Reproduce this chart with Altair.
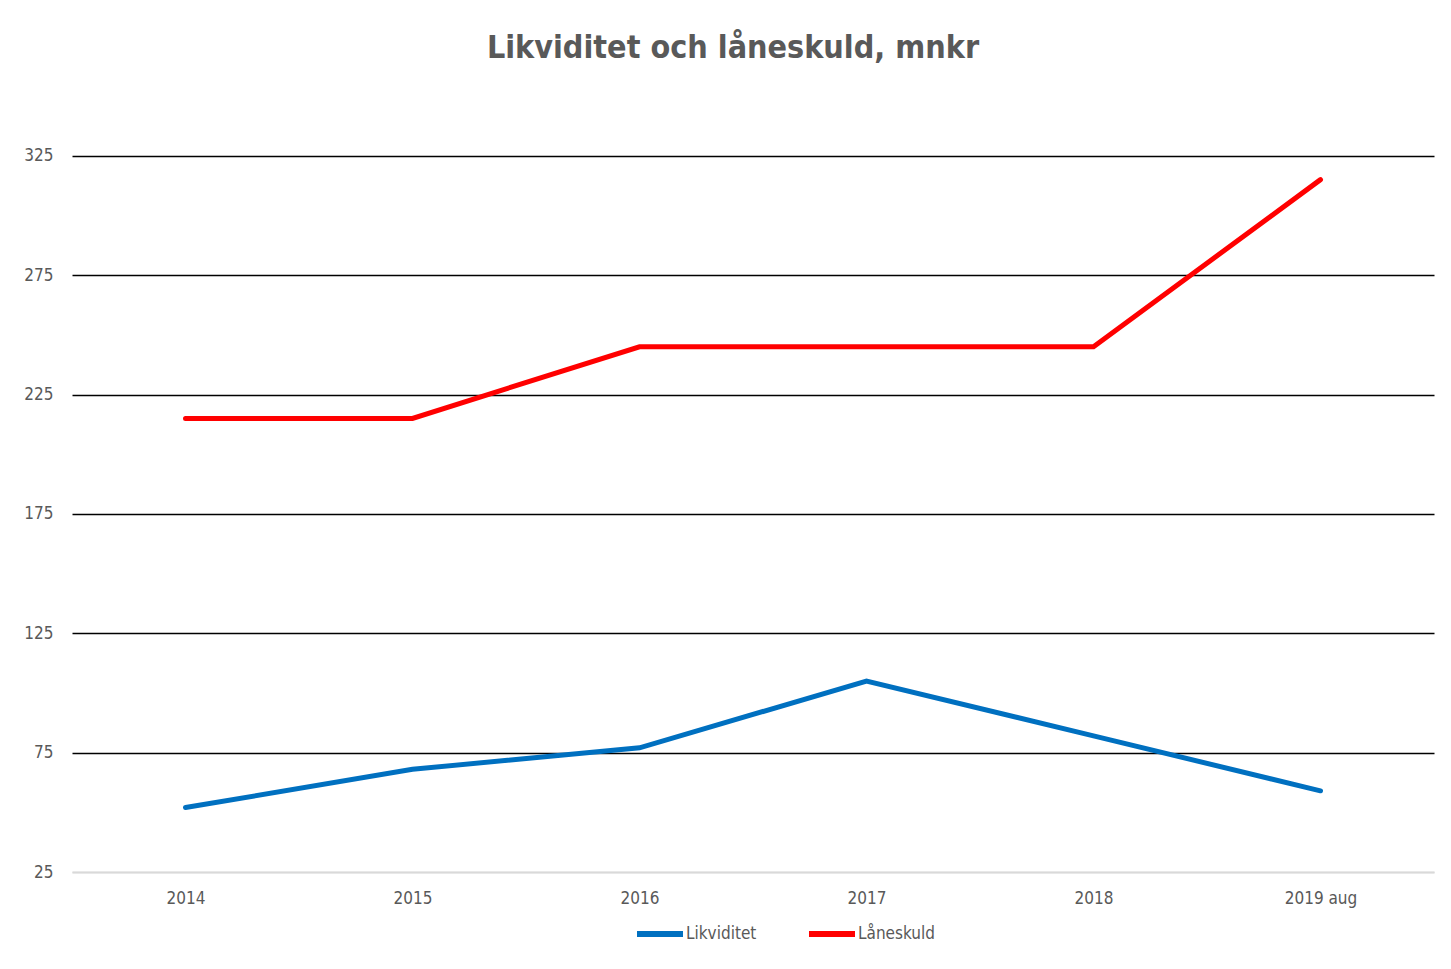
import altair as alt
import pandas as pd

years = ["2014", "2015", "2016", "2017", "2018", "2019 aug"]
likviditet = [52, 68, 77, 105, 82, 59]
laneskuld = [215, 215, 245, 245, 245, 315]
series_names = ["Likviditet", "Låneskuld"]
series_colors = ["#0070C0", "#FF0000"]
y_ticks = [25, 75, 125, 175, 225, 275, 325]

rows = []
for name, vals in zip(series_names, [likviditet, laneskuld]):
    for yr, v in zip(years, vals):
        rows.append({"År": yr, "Serie": name, "Värde": v})
df = pd.DataFrame(rows)

FONT = "Liberation Sans Narrow, DejaVu Sans Condensed, sans-serif"

lines = alt.Chart(df).mark_line(strokeWidth=5, strokeCap="round", strokeJoin="miter").encode(
    x=alt.X("År:N", sort=years, scale=alt.Scale(type="point", padding=0.5),
            axis=alt.Axis(title=None, labelAngle=0, ticks=False, domain=True,
                          domainColor="#d9d9d9", domainWidth=2, grid=False,
                          labelPadding=18, labelFontSize=17, labelColor="#595959",
                          labelFont=FONT)),
    y=alt.Y("Värde:Q", scale=alt.Scale(domain=[25, 345], nice=False, zero=False),
            axis=alt.Axis(title=None, values=y_ticks, ticks=False, domain=False,
                          grid=True, gridWidth=1.6,
                          gridColor=alt.condition("datum.value == 25", alt.value("#d9d9d9"), alt.value("#000000")),
                          labelPadding=19, labelFontSize=17, labelColor="#595959",
                          labelFont=FONT)),
    color=alt.Color("Serie:N", sort=series_names,
                    scale=alt.Scale(domain=series_names, range=series_colors),
                    legend=alt.Legend(title=None, orient="none", direction="horizontal",
                                      legendX=562, legendY=800, symbolType="stroke",
                                      symbolSize=2116, symbolStrokeWidth=6,
                                      labelFontSize=17, labelColor="#595959", labelFont=FONT,
                                      labelOffset=0, columnPadding=40, symbolOffset=0)),
)

chart = lines.properties(
    width=1362,
    height=764,
    padding={"left": 64, "top": 100, "right": 9, "bottom": 89},
    autosize=alt.AutoSizeParams(type="none"),
    title=alt.TitleParams("Likviditet och låneskuld, mnkr", anchor="middle", dx=-20,
                          offset=43, fontSize=32, fontWeight="bold", color="#595959",
                          font=FONT),
).configure_view(stroke=None)

chart.save("out.html", embed_options={"renderer": "svg", "actions": False})
